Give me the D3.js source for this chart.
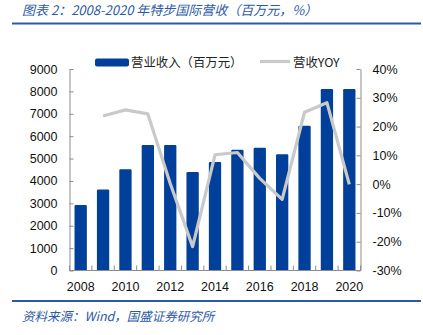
<!DOCTYPE html>
<html>
<head>
<meta charset="utf-8">
<script src="https://cdn.jsdelivr.net/npm/d3@7/dist/d3.min.js"></script>
<style>
  html, body { margin: 0; padding: 0; background: #fff; }
  svg { display: block; }
</style>
</head>
<body>
<div id="chart"></div>
<script>
// ---- data ----
const years = ["2008","2009","2010","2011","2012","2013","2014","2015","2016","2017","2018","2019","2020"];
const revenue = [2930, 3620, 4520, 5600, 5610, 4400, 4850, 5390, 5480, 5190, 6460, 8110, 8110];
const yoy = [null, 23.7, 25.8, 24.4, 0.2, -21.7, 10.2, 11.0, 2.0, -5.3, 25.0, 28.3, -0.1];
const leftTicks = [0, 1000, 2000, 3000, 4000, 5000, 6000, 7000, 8000, 9000];
const rightTicks = [-30, -20, -10, 0, 10, 20, 30, 40];
const xLabels = ["2008","2010","2012","2014","2016","2018","2020"];
const seriesNames = ["营业收入（百万元）", "营收YOY"];
const titleText = "图表 2：2008-2020 年特步国际营收（百万元，%）";
const sourceText = "资料来源：Wind，国盛证券研究所";

(function () {
// ---- layout ----
const W = 423, H = 335;
const pLeft = 69.5, pRight = 360.5, pTop = 69, pBottom = 270.5;
const blue = "#00409a", gray = "#c9c9c9", axisCol = "#8c8c8c", hdr = "#2d5aa6";
const numFont = "'Liberation Sans', Arial, sans-serif";
const cjkFont = "'Noto Sans CJK SC', 'Noto Sans', sans-serif";

const svg = d3.select("#chart").append("svg").attr("width", W).attr("height", H);

// title
svg.append("text").attr("x", 22).attr("y", 14.5)
  .attr("font-family", cjkFont).attr("font-size", 13).attr("font-style", "italic")
  .attr("fill", hdr).text(titleText);
svg.append("line").attr("x1", 12).attr("x2", 421).attr("y1", 23.5).attr("y2", 23.5)
  .attr("stroke", hdr).attr("stroke-width", 2);

// footer
svg.append("line").attr("x1", 12).attr("x2", 421).attr("y1", 301).attr("y2", 301)
  .attr("stroke", hdr).attr("stroke-width", 2);
svg.append("text").attr("x", 22).attr("y", 321)
  .attr("font-family", cjkFont).attr("font-size", 12.5).attr("font-style", "italic")
  .attr("fill", hdr).text(sourceText);

// scales
const x = d3.scaleBand().domain(years).range([pLeft, pRight]).paddingInner(0.45).paddingOuter(0.225);
const yL = d3.scaleLinear().domain([0, 9000]).range([pBottom, pTop]);
const yR = d3.scaleLinear().domain([-30, 40]).range([pBottom, pTop]);

// bars
svg.append("g").selectAll("rect").data(years).join("rect")
  .attr("x", d => x(d))
  .attr("y", (d, i) => yL(revenue[i]))
  .attr("width", x.bandwidth())
  .attr("height", (d, i) => yL(0) - yL(revenue[i]))
  .attr("rx", 1.2)
  .attr("fill", blue);

// line
const line = d3.line()
  .defined(d => d.v !== null)
  .x(d => x(d.year) + x.bandwidth() / 2)
  .y(d => yR(d.v));
svg.append("path")
  .datum(years.map((y, i) => ({ year: y, v: yoy[i] })))
  .attr("d", line)
  .attr("fill", "none").attr("stroke", gray).attr("stroke-width", 3.2)
  .attr("stroke-linejoin", "round");

// left axis
const gL = svg.append("g").attr("transform", `translate(${pLeft},0)`)
  .call(d3.axisLeft(yL).tickValues(leftTicks).tickFormat(d => d).tickSizeInner(-4).tickSizeOuter(0).tickPadding(12));
// right axis
const gR = svg.append("g").attr("transform", `translate(${pRight},0)`)
  .call(d3.axisRight(yR).tickValues(rightTicks).tickFormat(d => d + "%").tickSizeInner(-4).tickSizeOuter(0).tickPadding(12));
// bottom axis (labels)
const gB = svg.append("g").attr("transform", `translate(0,${pBottom})`)
  .call(d3.axisBottom(x).tickValues(xLabels).tickSize(0).tickPadding(12));
// category boundary ticks
const step = x.step();
const bounds = years.map(y => x(y) - step * x.paddingInner() / 2).concat([pRight]);
gB.append("g").selectAll("line").data(bounds).join("line")
  .attr("x1", d => d).attr("x2", d => d).attr("y1", 0).attr("y2", -5)
  .attr("stroke", axisCol);

[gL, gR, gB].forEach(g => {
  g.selectAll(".domain").attr("stroke", axisCol);
  g.selectAll(".tick line").attr("stroke", axisCol);
  g.selectAll("text").attr("font-family", numFont).attr("font-size", 12.5).attr("fill", "#111");
});
gB.select(".domain").attr("d", `M${pLeft},0H${pRight}`);

// legend
const lg = svg.append("g");
lg.append("rect").attr("x", 95).attr("y", 58.5).attr("width", 34).attr("height", 8).attr("rx", 2).attr("fill", blue);
lg.append("text").attr("x", 131).attr("y", 66.5).attr("font-family", cjkFont).attr("font-size", 12.4)
  .attr("fill", "#222").text(seriesNames[0]);
lg.append("line").attr("x1", 260).attr("x2", 290).attr("y1", 61.5).attr("y2", 61.5)
  .attr("stroke", gray).attr("stroke-width", 3.2);
svg.append("clipPath").attr("id", "lgclip").append("rect").attr("x", 290).attr("y", 45).attr("width", 62).attr("height", 30);
lg.append("text").attr("x", 293).attr("y", 66.5).attr("font-family", cjkFont).attr("font-size", 12.4)
  .attr("fill", "#222").attr("clip-path", "url(#lgclip)").text(seriesNames[1]);
})();
</script>
</body>
</html>
